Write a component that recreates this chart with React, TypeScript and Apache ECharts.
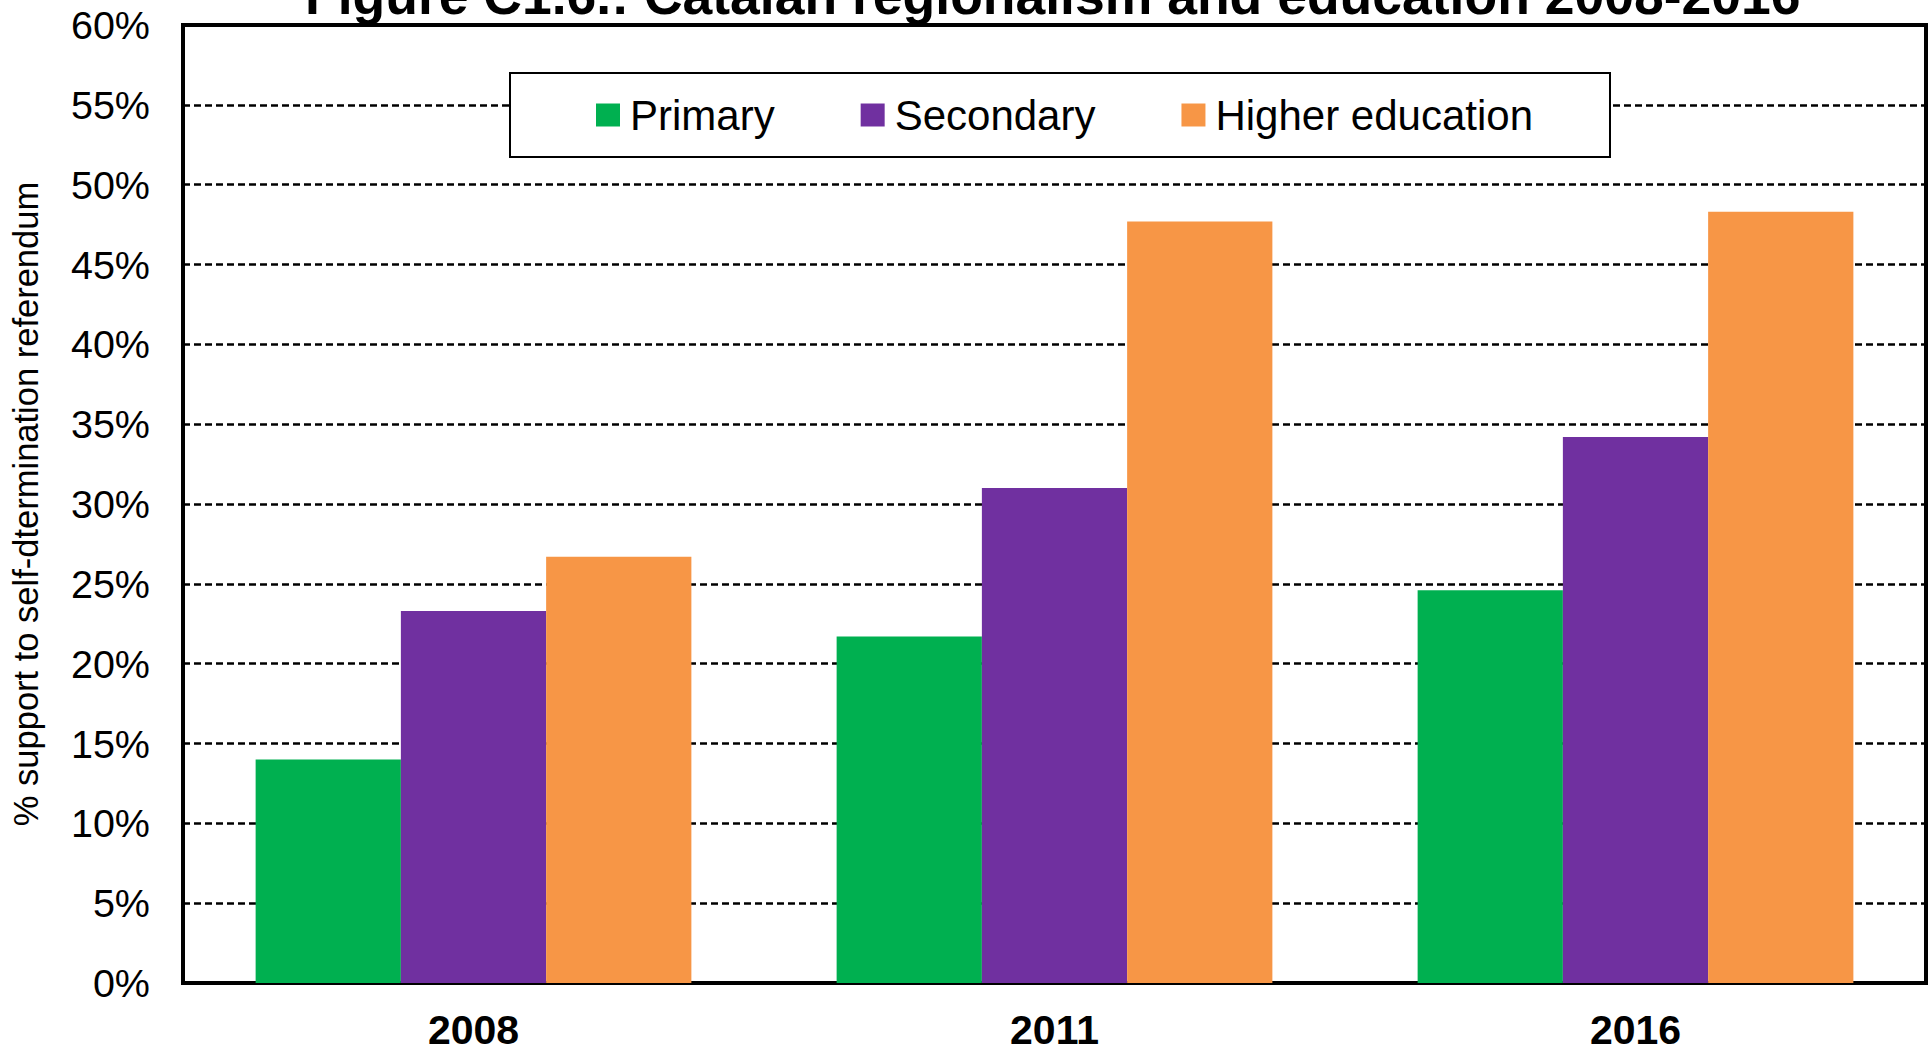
import React, { useEffect, useRef } from "react";
import * as echarts from "echarts";

const categories = ["2008", "2011", "2016"];
const seriesNames = ["Primary", "Secondary", "Higher education"];
const primary = [14.0, 21.7, 24.6];
const secondary = [23.3, 31.0, 34.2];
const higher = [26.7, 47.7, 48.3];
const colors = ["#00B050", "#7030A0", "#F79646"];
const titleText = "Figure C1.6.: Catalan regionalism and education 2008-2016";
const yAxisName = "% support to self-dtermination referendum";

const FONT = "'Liberation Sans', Arial, sans-serif";

export default function App() {
  const ref = useRef<HTMLDivElement>(null);
  useEffect(() => {
    document.body.style.margin = "0";
    if (!ref.current) return;
    const chart = echarts.init(ref.current, null, { renderer: "svg" });
    const values = [primary, secondary, higher];
    chart.setOption({
      animation: false,
      backgroundColor: "#ffffff",
      title: {
        text: titleText,
        left: 305,
        top: -32,
        padding: 0,
        textStyle: { fontFamily: FONT, fontSize: 53.5, fontWeight: "bold", color: "#000" },
      },
      legend: {
        data: seriesNames,
        left: 510,
        top: 73,
        orient: "horizontal",
        icon: "rect",
        itemWidth: 24,
        itemHeight: 23,
        itemGap: 86,
        padding: [21, 77, 21, 86],
        borderColor: "#000",
        borderWidth: 2,
        backgroundColor: "#ffffff",
        textStyle: { fontFamily: FONT, fontSize: 42, color: "#000", padding: [0, 0, 0, 5] },
      },
      grid: {
        left: 182,
        right: 6,
        top: 25,
        bottom: 70,
        show: true,
        borderColor: "#000",
        borderWidth: 4,
        backgroundColor: "transparent",
      },
      xAxis: {
        type: "category",
        data: categories,
        axisTick: { show: false },
        axisLine: { show: true, lineStyle: { color: "#000", width: 4 } },
        axisLabel: { fontFamily: FONT, fontSize: 41, fontWeight: "bold", color: "#000", margin: 26 },
      },
      yAxis: {
        type: "value",
        min: 0,
        max: 60,
        interval: 5,
        name: yAxisName,
        nameLocation: "middle",
        nameGap: 140,
        nameTextStyle: { fontFamily: FONT, fontSize: 34.5, color: "#000" },
        axisLine: { show: true, lineStyle: { color: "#000", width: 4 } },
        axisTick: { show: false },
        axisLabel: { formatter: "{value}%", fontFamily: FONT, fontSize: 39.5, color: "#000", margin: 33 },
        splitLine: { show: true, lineStyle: { color: "#000", width: 2.5, type: [7, 4] } },
      },
      series: seriesNames.map((name, i) => ({
        name,
        type: "bar",
        data: values[i],
        barGap: "0%",
        barCategoryGap: "25%",
        itemStyle: { color: colors[i] },
      })),
    });
    return () => chart.dispose();
  }, []);
  return <div ref={ref} style={{ width: 1932, height: 1053 }} />;
}
